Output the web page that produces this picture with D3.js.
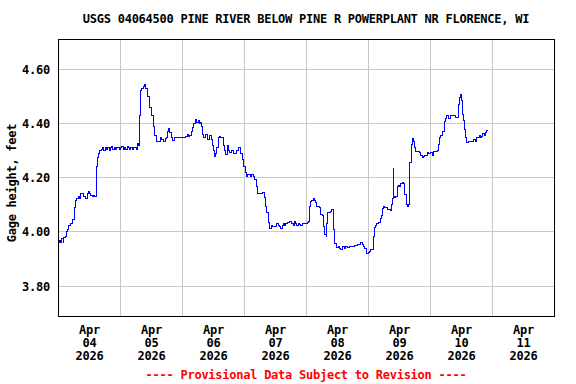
<!DOCTYPE html>
<html>
<head>
<meta charset="utf-8">
<script src="https://cdn.jsdelivr.net/npm/d3@7"></script>
<style>
  body { margin: 0; background: #fff; }
  svg text { font-family: "DejaVu Sans Mono", "Liberation Mono", monospace; font-weight: bold; font-size: 12px; letter-spacing: -0.25px; }
</style>
</head>
<body>
<div id="chart"></div>
<script>
const title = 'USGS 04064500 PINE RIVER BELOW PINE R POWERPLANT NR FLORENCE, WI'
const yLabel = 'Gage height, feet'
const footNote = '---- Provisional Data Subject to Revision ----'
const firstDay = '2026-04-04'
const lastDay = '2026-04-12'
const yTicks = [3.8, 4.0, 4.2, 4.4, 4.6]

// hours after Apr 04 2026 00:00
const hours = [
    0, 0.5, 1, 1.5, 2, 2.25, 2.75, 3.25, 3.75, 4.25,
    4.75, 5.25, 5.75, 6.25, 6.5, 6.75, 7.25, 7.75, 8.25, 8.75,
    9.25, 9.75, 10.25, 10.75, 11.25, 11.75, 12.25, 12.75, 13.25, 13.75,
    14.25, 14.5, 14.75, 15, 15.25, 15.75, 16.25, 16.75, 17.25, 17.75,
    18.25, 18.75, 19.25, 19.75, 20.25, 20.75, 21.25, 21.75, 22.25, 22.75,
    23.25, 23.75, 24.25, 24.75, 25.25, 25.75, 26.25, 26.75, 27.25, 27.75,
    28.25, 28.75, 29.25, 29.75, 30.25, 30.75, 31, 31.5, 32, 32.5,
    33, 33.5, 34, 34.5, 35.25, 36.25, 37, 37.5, 38, 38.75,
    39.5, 40.25, 41, 41.5, 42, 42.25, 42.75, 43.25, 43.75, 44.5,
    45.25, 46.25, 47.25, 48.25, 49.5, 50, 50.5, 51, 51.5, 52,
    52.5, 53, 53.25, 53.75, 54.25, 54.75, 55.25, 55.5, 56, 56.5,
    57.25, 57.75, 58.25, 58.75, 59.25, 59.75, 60.25, 60.5, 61, 61.5,
    62, 62.5, 63, 63.5, 64, 64.5, 65, 65.5, 66, 66.5,
    67.25, 67.75, 68.5, 69, 69.5, 70, 70.5, 71.25, 71.75, 72.5,
    73, 73.5, 74, 74.5, 75, 75.5, 76, 76.25, 76.75, 77.25,
    78, 78.75, 79.25, 79.75, 80.25, 80.75, 81.5, 82, 82.5, 83,
    83.5, 84, 84.75, 85.25, 85.75, 86.25, 86.75, 87.25, 87.75, 88.25,
    88.75, 89.5, 90.25, 91, 91.5, 92, 92.5, 93, 93.5, 94,
    94.5, 95, 95.5, 96.25, 96.75, 97, 97.25, 97.75, 98.25, 98.75,
    99.25, 99.75, 100.25, 100.75, 101.25, 101.75, 102.25, 102.75, 103.25, 103.75,
    104, 104.5, 105, 105.5, 106, 106.5, 107, 107.75, 108.5, 109,
    109.5, 110.25, 110.75, 111.25, 112, 112.75, 113.5, 114.25, 114.75, 115.5,
    116, 116.5, 117.25, 117.75, 118.25, 118.75, 119.25, 119.5, 120, 120.5,
    121, 121.5, 122, 122.25, 122.5, 123, 123.25, 123.75, 124.25, 124.75,
    125.25, 125.5, 126, 126.5, 127, 127.5, 128, 128.75, 129.25, 129.5,
    129.75, 130, 130.25, 130.75, 131.25, 131.75, 132.25, 132.75, 133.25, 133.75,
    134.25, 134.75, 135.25, 135.75, 136, 136.25, 136.75, 137.25, 137.75, 138,
    138.5, 139.25, 140, 140.5, 141, 141.5, 142, 142.75, 143, 143.5,
    144.25, 145, 145.5, 146.25, 146.75, 147.25, 147.75, 148.25, 148.75, 149.5,
    150, 150.5, 151, 151.5, 152, 152.75, 153.25, 153.75, 154.25, 154.75,
    155, 155.25, 155.75, 156.25, 156.5, 157, 157.25, 157.75, 158.25, 158.75,
    159.5, 160.25, 161, 161.5, 162, 162.5, 163, 163.5, 164, 164.5,
    165, 165.5, 166, 166.25
]

// gage height, feet
const stage = [
    3.96, 3.97, 3.96, 3.975, 3.96, 3.98, 3.985, 4.00, 4.01, 4.025,
    4.03, 4.03, 4.045, 4.07, 4.09, 4.115, 4.125, 4.13, 4.125, 4.14,
    4.14, 4.13, 4.13, 4.125, 4.14, 4.15, 4.14, 4.135, 4.13, 4.135,
    4.13, 4.13, 4.19, 4.24, 4.275, 4.29, 4.30, 4.305, 4.31, 4.30,
    4.31, 4.305, 4.31, 4.30, 4.31, 4.315, 4.305, 4.31, 4.305, 4.31,
    4.31, 4.305, 4.31, 4.315, 4.305, 4.31, 4.305, 4.315, 4.31, 4.305,
    4.31, 4.305, 4.31, 4.31, 4.305, 4.325, 4.32, 4.43, 4.52, 4.53,
    4.535, 4.545, 4.53, 4.50, 4.46, 4.43, 4.39, 4.355, 4.335, 4.335,
    4.348, 4.34, 4.335, 4.345, 4.35, 4.37, 4.38, 4.365, 4.35, 4.336,
    4.35, 4.35, 4.348, 4.35, 4.352, 4.36, 4.352, 4.355, 4.37, 4.385,
    4.40, 4.40, 4.415, 4.405, 4.41, 4.40, 4.405, 4.39, 4.36, 4.348,
    4.36, 4.342, 4.34, 4.355, 4.34, 4.317, 4.30, 4.28, 4.29, 4.31,
    4.35, 4.352, 4.35, 4.35, 4.317, 4.30, 4.286, 4.32, 4.30, 4.293,
    4.30, 4.288, 4.29, 4.30, 4.30, 4.311, 4.29, 4.268, 4.243, 4.221,
    4.206, 4.21, 4.21, 4.205, 4.21, 4.205, 4.20, 4.194, 4.169, 4.142,
    4.142, 4.142, 4.145, 4.126, 4.095, 4.07, 4.033, 4.011, 4.025, 4.02,
    4.021, 4.02, 4.03, 4.025, 4.02, 4.012, 4.025, 4.03, 4.025, 4.03,
    4.033, 4.04, 4.032, 4.025, 4.04, 4.03, 4.022, 4.03, 4.028, 4.025,
    4.03, 4.03, 4.03, 4.03, 4.035, 4.04, 4.095, 4.113, 4.115, 4.122,
    4.115, 4.107, 4.095, 4.095, 4.09, 4.064, 4.06, 4.021, 3.99, 3.984,
    4.03, 4.07, 4.07, 4.076, 4.083, 4.008, 3.959, 3.944, 3.945, 3.94,
    3.934, 3.945, 3.94, 3.945, 3.944, 3.947, 3.948, 3.948, 3.949, 3.95,
    3.955, 3.952, 3.961, 3.955, 3.948, 3.94, 3.934, 3.92, 3.925, 3.928,
    3.934, 3.934, 3.945, 3.984, 4.018, 4.025, 4.03, 4.03, 4.035, 4.048,
    4.06, 4.085, 4.093, 4.09, 4.09, 4.083, 4.083, 4.08, 4.10, 4.125,
    4.233, 4.13, 4.126, 4.13, 4.169, 4.17, 4.169, 4.18, 4.181, 4.18,
    4.138, 4.101, 4.095, 4.10, 4.187, 4.256, 4.323, 4.344, 4.335, 4.311,
    4.295, 4.295, 4.292, 4.283, 4.274, 4.28, 4.283, 4.283, 4.293, 4.29,
    4.293, 4.283, 4.295, 4.295, 4.30, 4.323, 4.348, 4.356, 4.369, 4.406,
    4.419, 4.431, 4.42, 4.42, 4.431, 4.431, 4.43, 4.422, 4.422, 4.422,
    4.471, 4.496, 4.505, 4.484, 4.434, 4.41, 4.379, 4.348, 4.33, 4.335,
    4.335, 4.335, 4.34, 4.335, 4.35, 4.348, 4.356, 4.35, 4.352, 4.364,
    4.355, 4.365, 4.373, 4.376
]

const width = 576
const height = 384
const margin = { top: 39, right: 22, bottom: 68, left: 58 }
const plotW = width - margin.left - margin.right
const plotH = height - margin.top - margin.bottom

const parseDay = d3.timeParse('%Y-%m-%d')
const start = parseDay(firstDay)
const end = parseDay(lastDay)
const data = hours.map((h, i) => ({ t: new Date(start.getTime() + h * 3600e3), v: stage[i] }))

const x = d3.scaleTime().domain([start, end]).range([margin.left, margin.left + plotW])
const y = d3.scaleLinear().domain([3.69, 4.7115]).range([margin.top + plotH, margin.top])

const svg = d3.select('#chart')
    .append('svg')
    .attr('width', width)
    .attr('height', height)

// grid
const days = d3.timeDay.range(d3.timeDay.offset(start, 1), end)
svg.append('g')
    .attr('shape-rendering', 'crispEdges')
    .selectAll('line')
    .data(days)
    .enter()
    .append('line')
    .attr('x1', (d) => x(d))
    .attr('x2', (d) => x(d))
    .attr('y1', margin.top)
    .attr('y2', margin.top + plotH)
    .attr('stroke', '#c8c8c8')
svg.append('g')
    .attr('shape-rendering', 'crispEdges')
    .selectAll('line')
    .data(yTicks)
    .enter()
    .append('line')
    .attr('x1', margin.left)
    .attr('x2', margin.left + plotW)
    .attr('y1', (d) => y(d))
    .attr('y2', (d) => y(d))
    .attr('stroke', '#c8c8c8')

// data line
svg.append('clipPath').attr('id', 'clip')
    .append('rect')
    .attr('x', margin.left).attr('y', margin.top)
    .attr('width', plotW).attr('height', plotH)
const line = d3.line()
    .x((d) => x(d.t))
    .y((d) => y(d.v))
    .curve(d3.curveStepAfter)
svg.append('path')
    .datum(data)
    .attr('clip-path', 'url(#clip)')
    .attr('d', line)
    .attr('fill', 'none')
    .attr('stroke', '#0000ff')
    .attr('stroke-width', 1)
    .attr('shape-rendering', 'crispEdges')

// frame
svg.append('rect')
    .attr('x', margin.left + 0.5)
    .attr('y', margin.top + 0.5)
    .attr('width', plotW)
    .attr('height', plotH)
    .attr('fill', 'none')
    .attr('stroke', '#000')

// y axis labels
const yAxis = d3.axisLeft(y).tickValues(yTicks).tickSize(0).tickPadding(8).tickFormat(d3.format('.2f'))
const gy = svg.append('g')
    .attr('transform', `translate(${margin.left}, 0)`)
    .call(yAxis)
gy.select('.domain').remove()
gy.selectAll('text').attr('fill', '#000').style('font-size', '12px').style('font-family', '"DejaVu Sans Mono", monospace')

// x axis labels, placed at noon of each day
const noons = d3.timeDay.range(start, end).map((d) => d3.timeHour.offset(d, 12))
const gx = svg.append('g')
    .attr('transform', `translate(0, ${margin.top + plotH})`)
    .call(d3.axisBottom(x).tickValues(noons).tickSize(0).tickFormat(''))
gx.select('.domain').remove()
const fmts = [d3.timeFormat('%b'), d3.timeFormat('%d'), d3.timeFormat('%Y')]
gx.selectAll('.tick text')
    .attr('y', 0)
    .attr('dy', null)
    .attr('fill', '#000')
    .style('font-size', '12px')
    .style('font-family', '"DejaVu Sans Mono", monospace')
    .each(function (d) {
        const t = d3.select(this)
        fmts.forEach((f, i) => {
            t.append('tspan').attr('x', 0).attr('y', 18 + i * 13).text(f(d))
        })
    })

// titles
svg.append('text')
    .attr('x', margin.left + plotW / 2)
    .attr('y', 23)
    .attr('text-anchor', 'middle')
    .text(title)
svg.append('text')
    .attr('transform', `translate(16, 183) rotate(-90)`)
    .attr('text-anchor', 'middle')
    .text(yLabel)
svg.append('text')
    .attr('x', margin.left + plotW / 2)
    .attr('y', 379)
    .attr('text-anchor', 'middle')
    .attr('fill', '#ff0000')
    .text(footNote)
</script>
</body>
</html>
